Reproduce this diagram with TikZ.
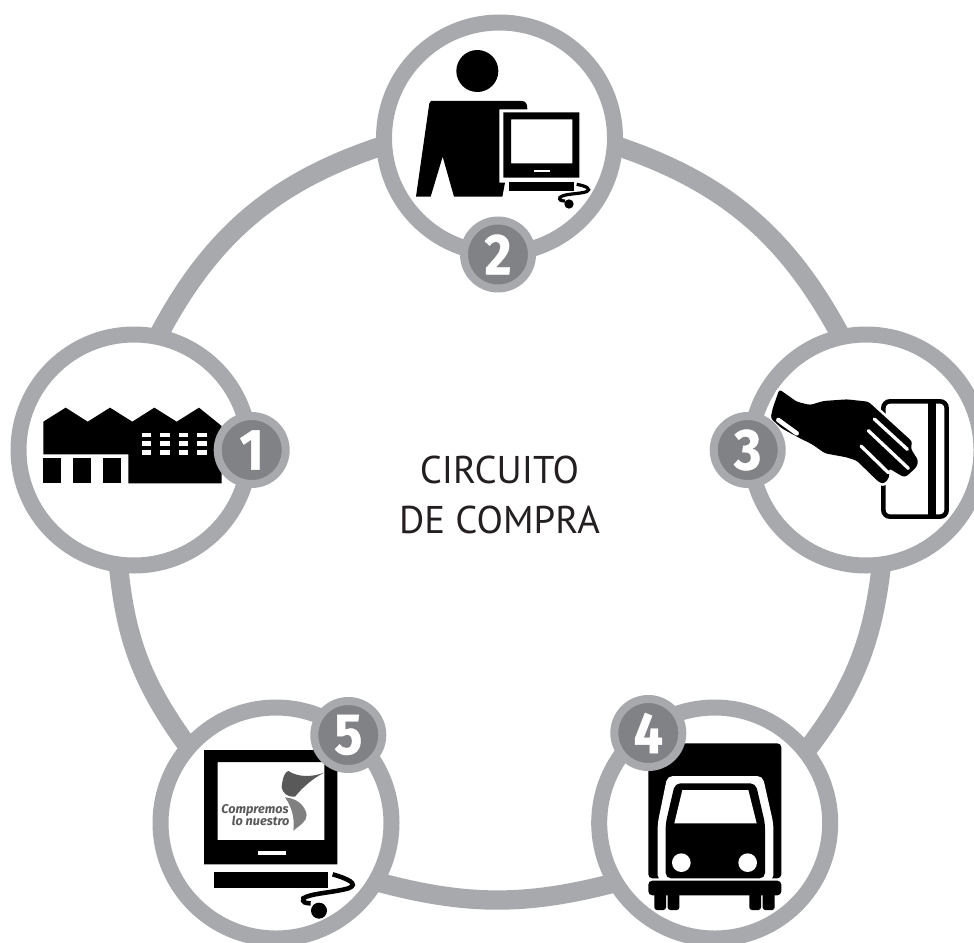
\documentclass[tikz,border=0pt]{standalone}
\usepackage{fontspec}
\setmainfont{PT Sans}
\newfontfamily\numfont[BoldFeatures={FakeBold=0.7,FakeStretch=0.9}]{Fira Sans}
\newfontfamily\logofont{Fira Sans}
\usetikzlibrary{backgrounds}
\definecolor{ringgray}{HTML}{A7A9AC}
\definecolor{darkgray2}{HTML}{808285}
\definecolor{titleink}{HTML}{231F20}
\tikzset{
  big/.style={circle,draw=ringgray,fill=white,line width=12pt,minimum size=173.25pt,inner sep=0pt,outer sep=0pt},
  badge/.style={circle,draw=ringgray,fill=darkgray2,line width=6pt,minimum size=51pt,inner sep=0pt,text=white,font=\numfont\bfseries\fontsize{43.5}{43.5}\selectfont},
  link/.style={draw=ringgray,line width=14.5pt},
  ink/.style={fill=black,draw=none},
  hole/.style={fill=white,draw=none},
  zoomA/.style={shift={(370,0)},scale=0.33333},
  zoomB/.style={shift={(0,340)},scale=0.33333},
  zoomC/.style={shift={(700,340)},scale=0.33333},
  zoomD/.style={shift={(580,690)},scale=0.33333},
  zoomE/.style={shift={(140,690)},scale=0.33333},
}
\begin{document}
\begin{tikzpicture}[x=0.75pt,y=-0.75pt]
\useasboundingbox (0,0) rectangle (974,942);
\clip (0,0) rectangle (974,942);
\node[big] (c1) at (134,450) {};
\node[big] (c2) at (499.5,138) {};
\node[big] (c3) at (866,450) {};
\node[big] (c4) at (714.7,823) {};
\node[big] (c5) at (276,823) {};
\coordinate (l1s) at (156,340);
\coordinate (l1e) at (388,144);
\coordinate (l2s) at (611,144);
\coordinate (l2e) at (843,340);
\coordinate (l3s) at (882,560);
\coordinate (l3e) at (803,755);
\coordinate (l4s) at (618,882);
\coordinate (l4e) at (374,881);
\coordinate (l5s) at (187,745);
\coordinate (l5e) at (118,560);
\begin{scope}[on background layer]
\draw[link] (l1s) to[bend left=22.4] (l1e);
\draw[link] (l2s) to[bend left=22] (l2e);
\draw[link] (l3s) to[bend left=16] (l3e);
\draw[link] (l4s) to[bend left=15] (l4e);
\draw[link] (l5s) to[bend left=15.5] (l5e);
\end{scope}
\node[align=center,text=titleink,font=\fontsize{29}{37.5}\selectfont] (title) at (499.5,494.5) {CIRCUITO\\DE COMPRA};
% factory
\begin{scope}[zoomB]
\fill[ink] (130,245)--(197,203)--(263,245)--(330,203)--(397,245)--(463,203)--(530,245)--(597,203)--(665,258)--(665,430)--(385,430)--(385,343)--(130,343)--cycle;
\fill[ink] (130,354) rectangle (183,428);
\fill[ink] (219,354) rectangle (273,428);
\fill[ink] (309,354) rectangle (363,428);
\foreach \wx in {425,481,537,592}\foreach \wy in {278,304,331}{\fill[hole] (\wx,\wy) rectangle ++(28,14);}
\end{scope}
% person
\begin{scope}[zoomA]
\fill[ink] (322,213) circle (63);
\fill[ink] (178,310)--(183,303)--(455,303) .. controls (468,303) and (472,312) .. (472,328)--(388,328)--(388,548)--(405,548)--(397,590)--(252,590)--(218,470)--(182,590)--(138,590)--cycle;
\fill[ink,even odd rule] (400,337) rectangle (628,533) (423,358) rectangle (607,490);
\fill[hole] (492,510) rectangle (540,517);
\fill[ink] (417,546) rectangle (612,573);
\draw[line width=2.4pt] (620,553) .. controls (650,558) and (665,568) .. (650,575) .. controls (625,583) and (585,580) .. (570,592) .. controls (565,600) and (575,603) .. (585,603);
\fill[ink] (597,612) circle (14);
\end{scope}
% card and hand
\begin{scope}[zoomC]
\draw[line width=3.4pt,rounded corners=5pt] (550,184) rectangle (740,530);
\fill[ink] (683,184) rectangle (707,530);
\path[preaction={draw=white,line width=4pt,line join=round},fill=black,rounded corners=2pt] (238,148)--(290,185)--(330,195)--(370,183)--(440,178)--(505,185)--(637,305)--(632,325)--(655,362)--(650,380)--(635,395)--(615,412)--(600,405)--(567,385)--(567,415)--(550,432)--(535,425)--(470,362)--(440,352)--(375,340)--(335,312)--(300,295)--(245,265)--(212,235)--(218,205)--cycle;
\draw[white,line width=2.5pt,line cap=round] (523,237)--(622,328);
\draw[white,line width=2.5pt,line cap=round] (505,272)--(625,385);
\draw[white,line width=2.5pt,line cap=round] (483,318)--(565,398);
\draw[white,line width=3.4pt,line cap=round] (235,240)--(290,280);
\end{scope}
% truck
\begin{scope}[zoomD]
\fill[ink,rounded corners=3pt] (205,160) rectangle (604,565);
\fill[hole,rounded corners=4pt] (233,572)--(233,400)--(262,258)--(548,258)--(580,400)--(580,572)--cycle;
\fill[ink,rounded corners=4pt] (257,565)--(257,400)--(285,280)--(527,280)--(555,400)--(555,565)--cycle;
\fill[hole] (283,400)--(307,300)--(505,300)--(530,400)--cycle;
\fill[hole] (304,518) circle (28);
\fill[hole] (503,518) circle (28);
\fill[ink,rounded corners=3pt] (205,572) rectangle (604,616);
\fill[ink,rounded corners=2pt] (223,600) rectangle (258,660);
\fill[ink,rounded corners=2pt] (263,600) rectangle (298,660);
\fill[ink,rounded corners=2pt] (508,600) rectangle (543,660);
\fill[ink,rounded corners=2pt] (548,600) rectangle (584,660);
\end{scope}
% monitor with logo
\begin{scope}[zoomE]
\fill[ink,even odd rule] (192,180) rectangle (592,523) (233,216) rectangle (553,450);
\fill[hole] (355,483) rectangle (437,495);
\fill[ink] (222,545) rectangle (563,594);
\draw[line width=3.4pt] (578,553) .. controls (620,565) and (660,582) .. (625,595) .. controls (580,608) and (510,610) .. (490,625) .. controls (485,638) and (500,640) .. (512,640);
\fill[ink] (537,662) circle (24);
\fill[black!65] (425,290) .. controls (428,262) and (435,245) .. (445,243) .. controls (475,262) and (515,262) .. (552,248) .. controls (515,268) and (490,290) .. (465,320) .. controls (445,322) and (428,312) .. (425,290) -- cycle;
\fill[black!50] (435,322) .. controls (470,325) and (495,345) .. (500,375) .. controls (500,395) and (480,405) .. (460,422) .. controls (465,385) and (455,350) .. (435,322) -- cycle;
\node[font=\logofont\bfseries\itshape\fontsize{9.5}{9.5}\selectfont,text=black!65,inner sep=0pt] (logoa) at (345,361) {Compremos};
\node[font=\logofont\bfseries\itshape\fontsize{9.5}{9.5}\selectfont,text=black!65,inner sep=0pt] (logob) at (362,393) {lo nuestro};
\end{scope}
\node[badge] (b1) at (251.7,450) {1};
\node[badge] (b2) at (498,254.5) {2};
\node[badge] (b3) at (747.7,450) {3};
\node[badge] (b4) at (648.3,733) {4};
\node[badge] (b5) at (348.3,735) {5};
\end{tikzpicture}
\end{document}
